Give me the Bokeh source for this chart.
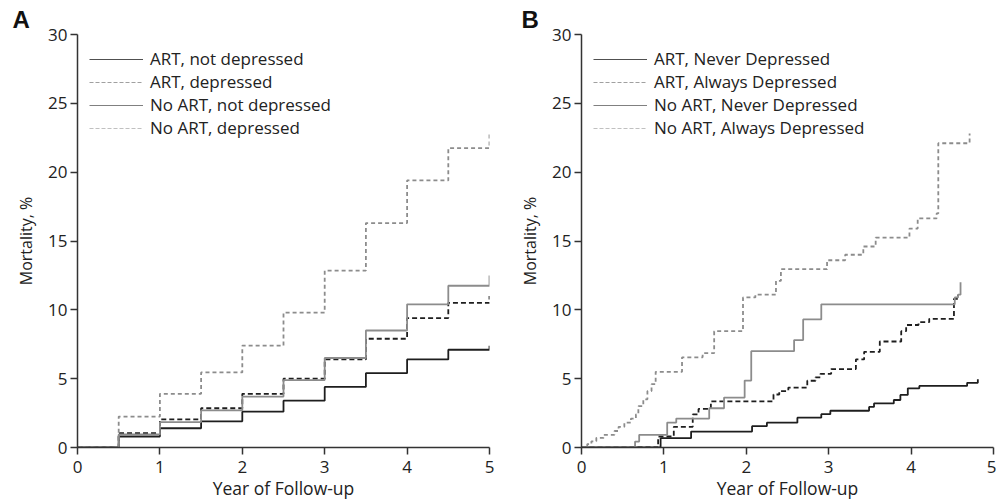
from bokeh.plotting import figure
from bokeh.layouts import row
from bokeh.models import FixedTicker, Legend, LegendItem, Range1d
from bokeh.embed import file_html
from bokeh.resources import INLINE

# ---------------- data: panel A ----------------
years_a = [0, 0.5, 1, 1.5, 2, 2.5, 3, 3.5, 4, 4.5, 5]
art_not_dep_a = [0, 0.8, 1.4, 1.9, 2.6, 3.4, 4.4, 5.4, 6.4, 7.1, 7.4]
art_dep_a = [0, 1.05, 2.05, 2.85, 3.9, 5.0, 6.4, 7.9, 9.4, 10.5, 11.0]
noart_not_dep_a = [0, 0.95, 1.85, 2.7, 3.7, 4.9, 6.5, 8.5, 10.4, 11.75, 12.5]
noart_dep_a = [0, 2.25, 3.9, 5.45, 7.4, 9.8, 12.85, 16.3, 19.4, 21.75, 22.8]
labels_a = ["ART, not depressed", "ART, depressed",
            "No ART, not depressed", "No ART, depressed"]

# ---------------- data: panel B ----------------
t_art_never_b = [0, 0.96, 1.33, 2.07, 2.25, 2.62, 2.91, 3.02, 3.49, 3.55, 3.79, 3.87, 3.96, 4.10, 4.68, 4.81]
art_never_b = [0, 0.68, 1.16, 1.55, 1.8, 2.17, 2.42, 2.67, 2.95, 3.2, 3.45, 3.82, 4.3, 4.47, 4.7, 4.95]

t_art_always_b = [0, 0.93, 1.12, 1.35, 1.42, 1.57, 2.33, 2.40, 2.51, 2.74, 2.84, 2.90, 3.03, 3.33, 3.43,
                  3.62, 3.88, 3.94, 4.09, 4.22, 4.52, 4.57]
art_always_b = [0, 0.8, 1.5, 2.4, 2.8, 3.35, 3.85, 4.1, 4.35, 4.85, 5.1, 5.35, 5.7, 6.4, 6.95,
                7.7, 8.45, 8.9, 9.1, 9.35, 10.8, 11.1]

t_noart_never_b = [0, 0.65, 0.70, 1.04, 1.15, 1.55, 1.73, 1.98, 2.06, 2.58, 2.69, 2.91, 4.53, 4.57, 4.60]
noart_never_b = [0, 0.43, 0.92, 1.81, 2.1, 2.85, 3.63, 4.86, 7.0, 7.8, 9.3, 10.4, 10.9, 11.1, 12.0]

t_noart_always_b = [0, 0.07, 0.12, 0.18, 0.27, 0.40, 0.45, 0.52, 0.60, 0.66, 0.69, 0.75, 0.80, 0.85, 0.90,
                    1.22, 1.47, 1.61, 1.96, 2.11, 2.36, 2.42, 2.98, 3.20, 3.42, 3.57, 3.98, 4.08, 4.31,
                    4.33, 4.71]
noart_always_b = [0, 0.25, 0.45, 0.7, 0.92, 1.2, 1.5, 1.8, 2.1, 2.4, 3.0, 3.5, 4.1, 4.6, 5.5,
                  6.55, 6.85, 8.45, 10.9, 11.1, 12.1, 12.95, 13.6, 14.0, 14.6, 15.25, 15.9, 16.65, 17.0,
                  22.1, 22.8]
labels_b = ["ART, Never Depressed", "ART, Always Depressed",
            "No ART, Never Depressed", "No ART, Always Depressed"]

x_ticks = [0, 1, 2, 3, 4, 5]
y_ticks = [0, 5, 10, 15, 20, 25, 30]

FONT = "Open Sans"
DARK = "#1e1e1e"
GREY = "#8c8c8c"

curve_styles = [
    dict(line_color=DARK, line_width=1.8),
    dict(line_color=DARK, line_width=1.8, line_dash="5 3"),
    dict(line_color=GREY, line_width=1.8),
    dict(line_color=GREY, line_width=1.8, line_dash="4 3"),
]
legend_styles = [
    dict(line_color="#505050", line_width=1.2),
    dict(line_color="#a0a0a0", line_width=1.2, line_dash="4 2"),
    dict(line_color="#808080", line_width=1.2),
    dict(line_color="#c0c0c0", line_width=1.2, line_dash="4 2"),
]


def make_panel(letter, letter_offset, width, border_left, border_right, curves, labels):
    p = figure(width=width, height=502, x_range=Range1d(0, 5), y_range=Range1d(0, 30),
               output_backend="svg", toolbar_location=None,
               min_border_left=border_left, min_border_right=border_right,
               min_border_top=34, min_border_bottom=54)
    p.outline_line_color = None
    p.xgrid.visible = False
    p.ygrid.visible = False
    p.background_fill_color = "white"
    p.border_fill_color = "white"

    # panel letter as the figure title
    p.title.text = letter
    p.title.align = "left"
    p.title.offset = letter_offset
    p.title.standoff = 4
    p.title.text_font = "Liberation Sans"
    p.title.text_font_style = "bold"
    p.title.text_font_size = "24px"
    p.title.text_color = "#111111"

    for (xs, ys), st in zip(curves, curve_styles):
        p.step(xs, ys, mode="after", **st)

    # legend-only line samples (kept outside the visible ranges)
    items = []
    for lab, st in zip(labels, legend_styles):
        r = p.line(x=[-10, -9], y=[-10, -10], **st)
        items.append(LegendItem(label=lab, renderers=[r]))
    leg = Legend(items=items, location=(12, 308), border_line_color=None,
                 background_fill_alpha=0, padding=0, margin=0, spacing=-1,
                 glyph_width=54, glyph_height=20, label_height=20,
                 label_standoff=7, label_text_font=FONT,
                 label_text_font_size="17px", label_text_color="#222222")
    p.add_layout(leg)

    for ax in (p.xaxis[0], p.yaxis[0]):
        ax.axis_line_color = "#333333"
        ax.axis_line_width = 1.5
        ax.major_tick_line_color = "#333333"
        ax.major_tick_line_width = 1.5
        ax.major_tick_out = 7
        ax.major_tick_in = 0
        ax.minor_tick_line_color = None
        ax.major_label_text_font = FONT
        ax.major_label_text_font_size = "17px"
        ax.major_label_text_color = "#222222"
        ax.axis_label_text_font = FONT
        ax.axis_label_text_font_style = "normal"
        ax.axis_label_text_color = "#222222"
    p.xaxis.ticker = FixedTicker(ticks=x_ticks)
    p.yaxis.ticker = FixedTicker(ticks=y_ticks)
    p.xaxis.axis_label = "Year of Follow-up"
    p.xaxis.axis_label_text_font_size = "17.5px"
    p.xaxis.major_label_standoff = 6
    p.xaxis.axis_label_standoff = 0
    p.yaxis.axis_label = "Mortality, %"
    p.yaxis.axis_label_text_font_size = "16px"
    p.yaxis.major_label_standoff = 3
    p.yaxis.axis_label_standoff = 8
    return p


pa = make_panel("A", -65, 496, 77, 7,
                [(years_a, art_not_dep_a), (years_a, art_dep_a),
                 (years_a, noart_not_dep_a), (years_a, noart_dep_a)], labels_a)
pb = make_panel("B", -60, 500, 85, 3,
                [(t_art_never_b, art_never_b), (t_art_always_b, art_always_b),
                 (t_noart_never_b, noart_never_b), (t_noart_always_b, noart_always_b)], labels_b)

layout = row(pa, pb)
open("out.html", "w").write(file_html(layout, INLINE))
